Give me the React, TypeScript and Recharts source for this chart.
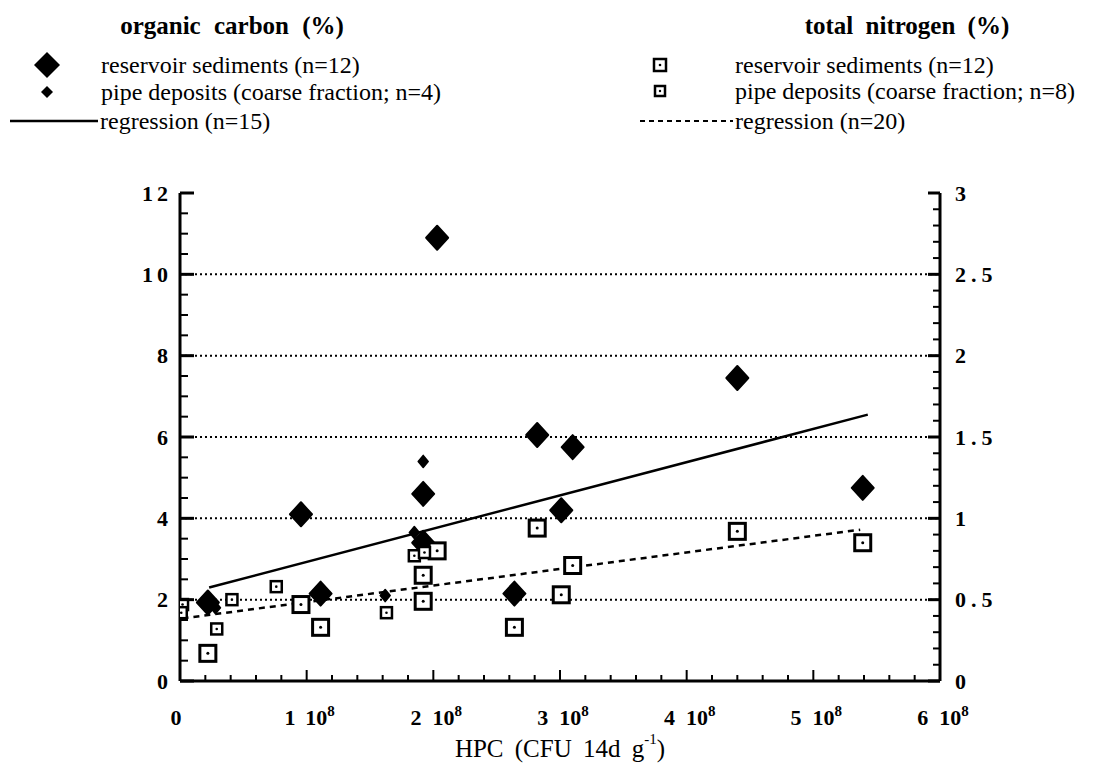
import React from 'react';
import { ScatterChart, Scatter, XAxis, YAxis, ReferenceLine } from 'recharts';

// HPC in CFU (14d) per g, values in %
const carbonReservoir = [
  { hpc: 0.22e8, pct: 1.93 },
  { hpc: 0.955e8, pct: 4.1 },
  { hpc: 1.11e8, pct: 2.15 },
  { hpc: 1.92e8, pct: 4.6 },
  { hpc: 1.92e8, pct: 3.4 },
  { hpc: 2.03e8, pct: 10.9 },
  { hpc: 2.64e8, pct: 2.15 },
  { hpc: 2.82e8, pct: 6.05 },
  { hpc: 3.01e8, pct: 4.2 },
  { hpc: 3.1e8, pct: 5.75 },
  { hpc: 4.4e8, pct: 7.45 },
  { hpc: 5.39e8, pct: 4.75 },
];

const carbonPipe = [
  { hpc: 0.28e8, pct: 1.8 },
  { hpc: 1.62e8, pct: 2.1 },
  { hpc: 1.85e8, pct: 3.65 },
  { hpc: 1.92e8, pct: 5.4 },
];

const nitrogenReservoir = [
  { hpc: 0.22e8, pct: 0.17 },
  { hpc: 0.955e8, pct: 0.47 },
  { hpc: 1.11e8, pct: 0.33 },
  { hpc: 1.92e8, pct: 0.65 },
  { hpc: 1.92e8, pct: 0.49 },
  { hpc: 2.03e8, pct: 0.8 },
  { hpc: 2.64e8, pct: 0.33 },
  { hpc: 2.82e8, pct: 0.94 },
  { hpc: 3.01e8, pct: 0.53 },
  { hpc: 3.1e8, pct: 0.71 },
  { hpc: 4.4e8, pct: 0.92 },
  { hpc: 5.39e8, pct: 0.85 },
];

const nitrogenPipe = [
  { hpc: 0.02e8, pct: 0.47 },
  { hpc: 0.01e8, pct: 0.42 },
  { hpc: 0.29e8, pct: 0.32 },
  { hpc: 0.41e8, pct: 0.5 },
  { hpc: 0.76e8, pct: 0.58 },
  { hpc: 1.63e8, pct: 0.42 },
  { hpc: 1.85e8, pct: 0.77 },
  { hpc: 1.93e8, pct: 0.79 },
];

// regression end points as drawn
const carbonFit = [
  { hpc: 0.23e8, pct: 2.3 },
  { hpc: 5.43e8, pct: 6.55 },
];
const nitrogenFit = [
  { hpc: 0.02e8, pct: 0.385 },
  { hpc: 5.37e8, pct: 0.93 },
];

const hpcTicks = [
  0, 0.2e8, 0.4e8, 0.6e8, 0.8e8, 1e8, 1.2e8, 1.4e8, 1.6e8, 1.8e8, 2e8,
  2.2e8, 2.4e8, 2.6e8, 2.8e8, 3e8, 3.2e8, 3.4e8, 3.6e8, 3.8e8, 4e8,
  4.2e8, 4.4e8, 4.6e8, 4.8e8, 5e8, 5.2e8, 5.4e8, 5.6e8, 5.8e8, 6e8,
];
const carbonTicks = [
  0, 0.5, 1, 1.5, 2, 2.5, 3, 3.5, 4, 4.5, 5, 5.5, 6, 6.5, 7, 7.5, 8, 8.5,
  9, 9.5, 10, 10.5, 11, 11.5, 12,
];
const nitrogenTicks = [
  0, 0.1, 0.2, 0.3, 0.4, 0.5, 0.6, 0.7, 0.8, 0.9, 1, 1.1, 1.2, 1.3, 1.4,
  1.5, 1.6, 1.7, 1.8, 1.9, 2, 2.1, 2.2, 2.3, 2.4, 2.5, 2.6, 2.7, 2.8, 2.9, 3,
];
const carbonGrid = [2, 4, 6, 8, 10];

const serif = 'Liberation Serif, Times New Roman, serif';

const BigDiamond = (p: any) => (
  <polygon
    points={`${p.cx},${p.cy - 12} ${p.cx + 11},${p.cy} ${p.cx},${p.cy + 12} ${p.cx - 11},${p.cy}`}
    fill="#000" stroke="#000" strokeWidth={2} strokeLinejoin="round"
  />
);

const SmallDiamond = (p: any) => (
  <polygon
    points={`${p.cx},${p.cy - 6} ${p.cx + 5},${p.cy} ${p.cx},${p.cy + 6} ${p.cx - 5},${p.cy}`}
    fill="#000" stroke="#000" strokeWidth={1.5} strokeLinejoin="round"
  />
);

const BigSquare = (p: any) => (
  <g>
    <rect x={p.cx - 8} y={p.cy - 8} width={16} height={16} fill="#fff" stroke="#000" strokeWidth={3} />
    <circle cx={p.cx} cy={p.cy} r={1.5} fill="#000" />
  </g>
);

const SmallSquare = (p: any) => (
  <g>
    <rect x={p.cx - 5.5} y={p.cy - 5.5} width={11} height={11} fill="#fff" stroke="#000" strokeWidth={2.5} />
    <circle cx={p.cx} cy={p.cy} r={1.3} fill="#000" />
  </g>
);

const NoDot = () => <g />;

const LeftTick = (p: any) => {
  const v = p.payload.value;
  const major = v % 2 === 0;
  return (
    <g>
      <line x1={p.x} x2={p.x + (major ? 14 : 8)} y1={p.y} y2={p.y} stroke="#000" strokeWidth={major ? 3 : 2} />
      {major && (
        <text x={p.x - 8} y={p.y} textAnchor="end" dominantBaseline="central"
          fontFamily={serif} fontWeight="bold" fontSize={22} letterSpacing={4} fill="#000">
          {v}
        </text>
      )}
    </g>
  );
};

const RightTick = (p: any) => {
  const v = p.payload.value;
  const major = Math.abs(v * 2 - Math.round(v * 2)) < 1e-6;
  return (
    <g>
      <line x1={p.x} x2={p.x - (major ? 12 : 7)} y1={p.y} y2={p.y} stroke="#000" strokeWidth={major ? 3 : 2} />
      {major && (
        <text x={p.x + 15} y={p.y} textAnchor="start" dominantBaseline="central"
          fontFamily={serif} fontWeight="bold" fontSize={22} letterSpacing={5} fill="#000">
          {String(v)}
        </text>
      )}
    </g>
  );
};

const HpcTick = (p: any) => {
  const v = p.payload.value;
  const major = v % 1e8 === 0;
  const n = v / 1e8;
  return (
    <g>
      <line x1={p.x} x2={p.x} y1={p.y} y2={p.y - (major ? 11 : 6)} stroke="#000" strokeWidth={2} />
      {major && (
        <text x={n === 0 ? p.x - 4 : p.x + 3} y={p.y + 44} textAnchor="middle"
          fontFamily={serif} fontWeight="bold" fontSize={22} fill="#000">
          {n === 0 ? (
            '0'
          ) : (
            <>
              <tspan>{n}</tspan>
              <tspan dx={11}>10</tspan>
              <tspan dy={-9} fontSize={15}>8</tspan>
            </>
          )}
        </text>
      )}
    </g>
  );
};

const Overlay = () => (
  <svg width={1080} height={758}
    style={{ position: 'absolute', left: 0, top: 0, overflow: 'visible', pointerEvents: 'none' }}>
    <g fontFamily={serif} fill="#000">
      <text x={224} y={17} textAnchor="middle" dominantBaseline="central" fontWeight="bold" fontSize={25} style={{ wordSpacing: 7 }}>
        organic carbon (%)
      </text>
      <polygon points="39,44 52,57 39,70 26,57" fill="#000" />
      <text x={93} y={57} dominantBaseline="central" fontSize={24}>reservoir sediments (n=12)</text>
      <polygon points="39,78 45,84 39,90 33,84" fill="#000" />
      <text x={93} y={84} dominantBaseline="central" fontSize={24}>pipe deposits (coarse fraction; n=4)</text>
      <line x1={2} x2={90} y1={113} y2={113} stroke="#000" strokeWidth={2.5} />
      <text x={92} y={113} dominantBaseline="central" fontSize={24}>regression (n=15)</text>

      <text x={899} y={17} textAnchor="middle" dominantBaseline="central" fontWeight="bold" fontSize={25} style={{ wordSpacing: 6 }}>
        total nitrogen (%)
      </text>
      <rect x={646} y={51} width={12} height={12} fill="#fff" stroke="#000" strokeWidth={2.5} />
      <circle cx={652} cy={57} r={1.3} />
      <text x={727} y={57} dominantBaseline="central" fontSize={24}>reservoir sediments (n=12)</text>
      <rect x={647} y={78} width={10} height={10} fill="#fff" stroke="#000" strokeWidth={2.5} />
      <circle cx={652} cy={83} r={1.2} />
      <text x={727} y={83} dominantBaseline="central" fontSize={24}>pipe deposits (coarse fraction; n=8)</text>
      <line x1={632} x2={725} y1={113} y2={113} stroke="#000" strokeWidth={2} strokeDasharray="5 4" />
      <text x={727} y={113} dominantBaseline="central" fontSize={24}>regression (n=20)</text>

      <text x={552} y={740} textAnchor="middle" dominantBaseline="central" fontSize={25} style={{ wordSpacing: 5 }}>
        HPC (CFU 14d g<tspan dy={-9} fontSize={15}>-1</tspan><tspan dy={9}>)</tspan>
      </text>
    </g>
  </svg>
);

export default function App() {
  return (
    <div style={{ position: 'relative', width: 1080, height: 758, background: '#fff' }}>
      <ScatterChart width={1080} height={750} margin={{ top: 185, right: 48, bottom: 17, left: 72 }}>
        <XAxis type="number" dataKey="hpc" domain={[0, 6e8]} ticks={hpcTicks} interval={0}
          allowDataOverflow tick={HpcTick} tickLine={false} tickSize={0} tickMargin={0}
          axisLine={{ stroke: '#000', strokeWidth: 3 }} height={60} />
        <YAxis yAxisId="c" orientation="left" type="number" dataKey="pct" domain={[0, 12]}
          ticks={carbonTicks} interval={0} allowDataOverflow tick={LeftTick} tickLine={false}
          tickSize={0} tickMargin={0} axisLine={{ stroke: '#000', strokeWidth: 3 }} width={100} />
        <YAxis yAxisId="n" orientation="right" type="number" dataKey="pct" domain={[0, 3]}
          ticks={nitrogenTicks} interval={0} allowDataOverflow tick={RightTick} tickLine={false}
          tickSize={0} tickMargin={0} axisLine={{ stroke: '#000', strokeWidth: 3 }} width={100} />
        {carbonGrid.map((g) => (
          <ReferenceLine key={g} yAxisId="c" y={g} stroke="#000" strokeWidth={2} strokeDasharray="2 3" />
        ))}
        <Scatter yAxisId="c" data={carbonFit} fill="#000" shape={NoDot}
          line={{ stroke: '#000', strokeWidth: 2.5 }} isAnimationActive={false} />
        <Scatter yAxisId="n" data={nitrogenFit} fill="#000" shape={NoDot}
          line={{ stroke: '#000', strokeWidth: 2.5, strokeDasharray: '6 5' }} isAnimationActive={false} />
        <Scatter yAxisId="c" data={carbonReservoir} shape={BigDiamond} isAnimationActive={false} />
        <Scatter yAxisId="c" data={carbonPipe} shape={SmallDiamond} isAnimationActive={false} />
        <Scatter yAxisId="n" data={nitrogenReservoir} shape={BigSquare} isAnimationActive={false} />
        <Scatter yAxisId="n" data={nitrogenPipe} shape={SmallSquare} isAnimationActive={false} />
      </ScatterChart>
      <Overlay />
    </div>
  );
}
